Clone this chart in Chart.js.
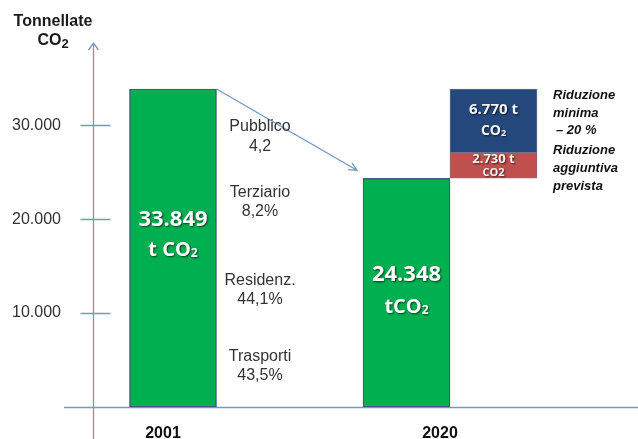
<!DOCTYPE html>
<html>
<head>
<meta charset="utf-8">
<script src="https://cdn.jsdelivr.net/npm/chart.js@4"></script>
<style>
  html, body { margin: 0; padding: 0; background: #fff; }
</style>
</head>
<body>
<canvas id="co2Chart" width="638" height="439"></canvas>
<script>
// data
const years = [2001, 2020];
const totals = [33849, 24348];
const extraCut = [null, 2730];   // riduzione aggiuntiva prevista
const minCut = [null, 6770];     // riduzione minima -20%
const yTickValues = [10000, 20000, 30000];
const yTickLabels = ['10.000', '20.000', '30.000'];
const sectorNames = ['Pubblico', 'Terziario', 'Residenz.', 'Trasporti'];
const sectorShares = ['4,2', '8,2%', '44,1%', '43,5%'];
const totalLabels = ['33.849', '24.348'];
const totalUnits = ['t CO', 'tCO'];
const cutLabels = ['6.770 t', '2.730 t'];
const noteMin = ['Riduzione', 'minima', '\u2013 20 %'];
const noteExtra = ['Riduzione', 'aggiuntiva', 'prevista'];

const SANS = '"Liberation Sans", Arial, sans-serif';
const OPEN = '"Open Sans", "Liberation Sans", sans-serif';
const AXIS = '#7896c4';

const redBars = totals.map((t, i) => extraCut[i] == null ? null : [t, t + extraCut[i]]);
const blueBars = totals.map((t, i) => minCut[i] == null ? null : [t + extraCut[i], t + extraCut[i] + minCut[i]]);

function subText(ctx, main, sub, cx, cy, size, font, weight, subScale) {
  ctx.font = `${weight} ${size}px ${font}`;
  const w1 = ctx.measureText(main).width;
  const ss = Math.round(size * (subScale || 0.62));
  ctx.font = `${weight} ${ss}px ${font}`;
  const w2 = ctx.measureText(sub).width;
  const x0 = cx - (w1 + w2) / 2;
  ctx.textAlign = 'left';
  ctx.textBaseline = 'middle';
  ctx.font = `${weight} ${size}px ${font}`;
  ctx.fillText(main, x0, cy);
  ctx.font = `${weight} ${ss}px ${font}`;
  ctx.fillText(sub, x0 + w1, cy + size * 0.2);
}

const decor = {
  id: 'decor',
  beforeDatasetsDraw(chart) {
    const { ctx, chartArea, scales: { y } } = chart;
    const ax = chartArea.left + 0.5;
    const base = Math.round(y.getPixelForValue(0)) + 0.5;
    ctx.save();
    ctx.strokeStyle = AXIS;
    ctx.lineWidth = 1.3;
    ctx.beginPath();
    ctx.moveTo(ax, chart.height);
    ctx.lineTo(ax, chartArea.top);
    ctx.moveTo(ax - 5, chartArea.top + 7);
    ctx.lineTo(ax, chartArea.top);
    ctx.lineTo(ax + 5, chartArea.top + 7);
    ctx.moveTo(64, base);
    ctx.lineTo(chart.width, base);
    yTickValues.forEach(v => {
      const py = Math.round(y.getPixelForValue(v)) + 0.5;
      ctx.moveTo(ax - 13, py);
      ctx.lineTo(ax + 17, py);
    });
    ctx.stroke();

    // title of the axis
    ctx.fillStyle = '#1a1a1a';
    ctx.textAlign = 'center';
    ctx.textBaseline = 'middle';
    ctx.font = `bold 16px ${SANS}`;
    ctx.fillText('Tonnellate', 53, 22);
    subText(ctx, 'CO', '2', 53, 41, 16, SANS, 'bold', 0.8);
    ctx.restore();
  },
  afterDatasetsDraw(chart) {
    const { ctx } = chart;
    const green = chart.getDatasetMeta(0).data;
    const red = chart.getDatasetMeta(1).data;
    const blue = chart.getDatasetMeta(2).data;
    ctx.save();

    // arrow from 2001 to 2020
    const b0 = green[0], b1 = green[1];
    const sx = b0.x + b0.width / 2, sy = b0.y;
    const ex = b1.x - b1.width / 2 - 6, ey = b1.y - 8;
    const ang = Math.atan2(ey - sy, ex - sx);
    ctx.strokeStyle = '#6f94c8';
    ctx.lineWidth = 1.2;
    ctx.beginPath();
    ctx.moveTo(sx, sy);
    ctx.lineTo(ex, ey);
    ctx.moveTo(ex - 9 * Math.cos(ang - 0.45), ey - 9 * Math.sin(ang - 0.45));
    ctx.lineTo(ex, ey);
    ctx.lineTo(ex - 9 * Math.cos(ang + 0.45), ey - 9 * Math.sin(ang + 0.45));
    ctx.stroke();

    // sector shares beside the 2001 bar
    const sectorY = [[127, 147], [193, 212], [281, 300], [357, 376]];
    ctx.fillStyle = '#333';
    ctx.textAlign = 'center';
    ctx.textBaseline = 'middle';
    ctx.font = `16px ${SANS}`;
    sectorNames.forEach((n, i) => {
      ctx.fillText(n, 260, sectorY[i][0]);
      ctx.fillText(sectorShares[i], 260, sectorY[i][1]);
    });

    // totals inside the green bars
    const totalY = [[220, 250], [275, 307]];
    ctx.shadowColor = 'rgba(0,0,0,0.65)';
    ctx.shadowOffsetX = 1;
    ctx.shadowOffsetY = 1;
    ctx.shadowBlur = 2;
    ctx.fillStyle = '#fff';
    green.forEach((b, i) => {
      ctx.textAlign = 'center';
      ctx.textBaseline = 'middle';
      ctx.font = `bold 22px ${OPEN}`;
      ctx.fillText(totalLabels[i], b.x, totalY[i][0]);
      subText(ctx, totalUnits[i], '2', b.x, totalY[i][1], 20, OPEN, 'bold');
    });

    // reduction labels, centred in their boxes
    const bb = blue[1], rb = red[1];
    const bMid = (bb.y + bb.base) / 2, rMid = (rb.y + rb.base) / 2;
    ctx.fillStyle = '#f4f4f4';
    ctx.textAlign = 'center';
    ctx.font = `bold 15px ${OPEN}`;
    ctx.fillText(cutLabels[0], bb.x, bMid - 11);
    subText(ctx, 'CO', '2', bb.x, bMid + 10, 14, OPEN, 'bold');
    ctx.textAlign = 'center';
    ctx.font = `bold 13px ${OPEN}`;
    ctx.fillText(cutLabels[1], rb.x, rMid - 6);
    ctx.font = `bold 11px ${OPEN}`;
    ctx.fillText('CO2', rb.x, rMid + 7);
    ctx.shadowColor = 'transparent';

    // notes on the right
    ctx.fillStyle = '#111';
    ctx.textAlign = 'left';
    ctx.font = `italic bold 13px ${SANS}`;
    const minY = [95, 113, 130], extraY = [150, 168, 186];
    noteMin.forEach((t, i) => ctx.fillText(t, i === 2 ? 556 : 553, minY[i]));
    noteExtra.forEach((t, i) => ctx.fillText(t, 553, extraY[i]));
    ctx.restore();
  }
};

new Chart(document.getElementById('co2Chart'), {
  type: 'bar',
  data: {
    datasets: [
      {
        label: 'Emissioni',
        data: years.map((x, i) => ({ x, y: totals[i] })),
        backgroundColor: '#00b050',
        borderColor: '#3d5b86',
        borderWidth: 1.5,
        borderSkipped: false,
        stack: 'g'
      },
      {
        label: 'Riduzione aggiuntiva prevista',
        data: years.map((x, i) => ({ x, y: redBars[i] })),
        backgroundColor: '#c0504d',
        borderColor: '#8f6a78',
        borderWidth: 1,
        borderSkipped: false,
        stack: 'r'
      },
      {
        label: 'Riduzione minima',
        data: years.map((x, i) => ({ x, y: blueBars[i] })),
        backgroundColor: '#24487c',
        borderColor: '#5b7199',
        borderWidth: 1,
        borderSkipped: false,
        stack: 'r'
      }
    ]
  },
  options: {
    responsive: false,
    animation: false,
    skipNull: true,
    barThickness: 87,
    layout: { padding: { top: 43, right: 8, left: 0, bottom: 0 } },
    plugins: { legend: { display: false }, tooltip: { enabled: false } },
    scales: {
      x: {
        type: 'linear',
        offset: false,
        min: 1995.513,
        max: 2032.346,
        grid: { display: false, drawTicks: false, offset: false },
        border: { display: false },
        afterBuildTicks: s => { s.ticks = years.map(v => ({ value: v })); },
        afterFit: s => { s.height = 32; },
        ticks: {
          callback: v => String(v),
          color: '#111',
          font: { family: SANS, size: 16, weight: 'bold' },
          padding: 17,
          labelOffset: -10,
          maxRotation: 0,
          autoSkip: false
        }
      },
      y: {
        stacked: false,
        min: 0,
        max: 38750,
        grid: { display: false, drawTicks: false },
        border: { display: false },
        afterBuildTicks: s => { s.ticks = yTickValues.map(v => ({ value: v })); },
        afterFit: s => { s.width = 93; s.paddingTop = 0; s.paddingBottom = 0; },
        ticks: {
          callback: v => yTickLabels[yTickValues.indexOf(v)],
          color: '#333',
          font: { family: SANS, size: 16 },
          padding: 32
        }
      }
    }
  },
  plugins: [decor]
});
</script>
</body>
</html>
